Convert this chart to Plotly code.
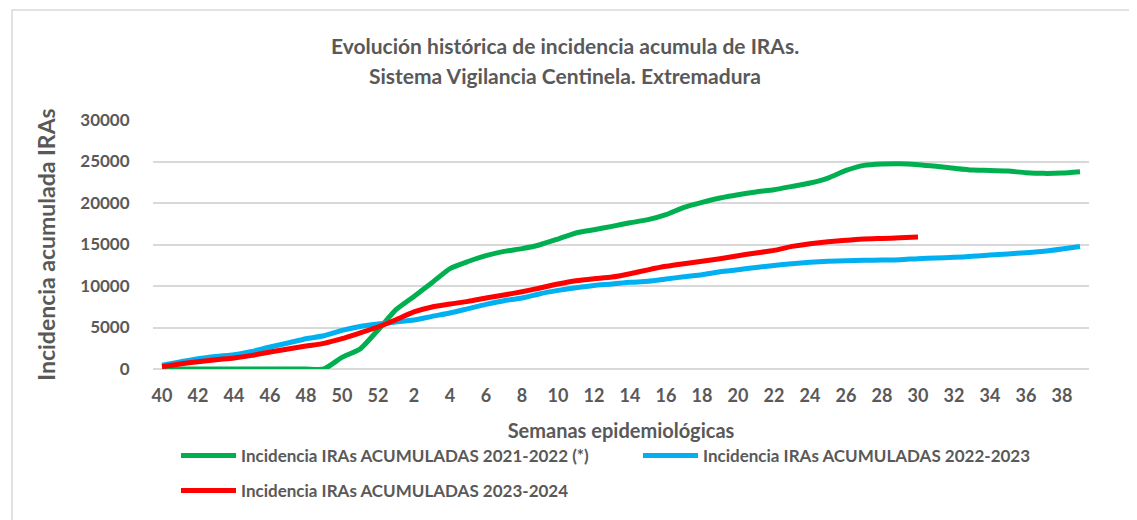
import plotly.graph_objects as go

weeks = ["40", "41", "42", "43", "44", "45", "46", "47", "48", "49", "50", "51", "52",
         "1", "2", "3", "4", "5", "6", "7", "8", "9", "10", "11", "12", "13", "14", "15",
         "16", "17", "18", "19", "20", "21", "22", "23", "24", "25", "26", "27", "28", "29",
         "30", "31", "32", "33", "34", "35", "36", "37", "38", "39"]

tick_labels = ["40", "42", "44", "46", "48", "50", "52", "2", "4", "6", "8", "10", "12", "14",
               "16", "18", "20", "22", "24", "26", "28", "30", "32", "34", "36", "38"]

y_ticks = [0, 5000, 10000, 15000, 20000, 25000, 30000]

s2122 = [0, 0, 0, 0, 0, 0, 0, 0, 0, 0, 1400, 2400, 4700,
         7150, 8750, 10400, 12100, 12950, 13650, 14170, 14500, 14970, 15660, 16390, 16780,
         17180, 17620, 17990, 18590, 19470, 20070, 20600, 21000, 21330, 21600, 22000, 22410,
         23010, 23930, 24530, 24700, 24740, 24620, 24420, 24180, 23970, 23930, 23850, 23650,
         23570, 23610, 23770]

s2223 = [450, 840, 1240, 1520, 1720, 2120, 2650, 3130, 3650, 4010, 4650, 5130, 5420,
         5660, 5900, 6340, 6750, 7270, 7790, 8230, 8550, 9070, 9470, 9800, 10070, 10240,
         10440, 10560, 10840, 11120, 11360, 11720, 11960, 12240, 12480, 12690, 12850, 12970,
         13050, 13100, 13130, 13170, 13290, 13370, 13450, 13570, 13740, 13860, 14010, 14180,
         14460, 14770]

s2324 = [280, 600, 880, 1120, 1320, 1640, 2040, 2410, 2770, 3090, 3650, 4340, 5060,
         5940, 6870, 7470, 7830, 8150, 8550, 8920, 9310, 9760, 10240, 10640, 10880, 11080,
         11480, 11950, 12370, 12690, 12970, 13290, 13650, 13980, 14290, 14770, 15100, 15340,
         15500, 15660, 15730, 15800, 15900]

names = ["Incidencia IRAs ACUMULADAS 2021-2022 (*)",
         "Incidencia IRAs ACUMULADAS 2022-2023",
         "Incidencia IRAs ACUMULADAS 2023-2024"]
colors = ["#00B050", "#00B0F0", "#FF0000"]

FONT = "Lato"
GRAY = "#595959"

# page has an 8px body margin; work in page pixels and convert
OFF = 8
W, H = 1137 - OFF, 520 - OFF
L, R, T, B = 153, 1089, 120, 369  # plot area in page pixels


def px(x):
    return (x - L) / (R - L)


def py(y):
    return (B - y) / (B - T)


fig = go.Figure()
series = [s2122, s2223, s2324]
legends = ["legend", "legend2", "legend3"]
for vals, name, col, lg in zip(series, names, colors, legends):
    fig.add_trace(go.Scatter(
        x=weeks[:len(vals)], y=vals, mode="lines", name=name,
        line=dict(color=col, width=5, shape="spline", smoothing=0.55),
        legend=lg, hoverinfo="x+y"))

leg_font = dict(family=FONT, size=17, color=GRAY, weight="bold")


def leg(xpix, ypix):
    return dict(orientation="h", x=px(xpix), y=py(ypix), xanchor="left", yanchor="middle",
                font=leg_font, bgcolor="rgba(0,0,0,0)", itemwidth=55)


fig.update_layout(
    width=W, height=H,
    margin=dict(l=L - OFF, r=W - (R - OFF), t=T - OFF, b=H - (B - OFF), autoexpand=False),
    paper_bgcolor="white", plot_bgcolor="white",
    font=dict(family=FONT, color=GRAY),
    showlegend=True,
    legend=leg(176, 456),
    legend2=leg(638, 456),
    legend3=leg(176, 491),
    xaxis=dict(type="category", categoryorder="array", categoryarray=weeks,
               range=[-0.5, len(weeks) - 0.5],
               tickmode="array", tickvals=tick_labels, ticktext=tick_labels,
               ticks="outside", ticklen=10, tickcolor="rgba(0,0,0,0)",
               showgrid=False, showline=False, zeroline=False,
               tickfont=dict(family=FONT, size=18, color=GRAY, weight="bold"),
               title=dict(text="Semanas epidemiológicas", standoff=19,
                          font=dict(family=FONT, size=20, color=GRAY, weight="bold"))),
    yaxis=dict(range=[0, 30000], tickmode="array", tickvals=y_ticks,
               ticktext=[str(v) for v in y_ticks],
               ticks="outside", ticklen=19, tickcolor="rgba(0,0,0,0)",
               showgrid=True, gridcolor="#d9d9d9", gridwidth=1.5,
               zeroline=True, zerolinecolor="#d9d9d9", zerolinewidth=1.5,
               showline=False,
               tickfont=dict(family=FONT, size=17, color=GRAY, weight="bold"),
               title=dict(text="Incidencia acumulada IRAs", standoff=18,
                          font=dict(family=FONT, size=23, color=GRAY, weight="bold"))),
    annotations=[
        dict(text="Evolución histórica de incidencia acumula de IRAs.", xref="paper", yref="paper",
             x=px(565), y=py(45), xanchor="center", yanchor="middle", showarrow=False,
             font=dict(family=FONT, size=21, color=GRAY, weight="bold")),
        dict(text="Sistema Vigilancia Centinela. Extremadura", xref="paper", yref="paper",
             x=px(565), y=py(75), xanchor="center", yanchor="middle", showarrow=False,
             font=dict(family=FONT, size=21, color=GRAY, weight="bold")),
    ],
    shapes=[dict(type="rect", xref="paper", yref="paper", x0=px(12), x1=px(1134),
                 y0=py(10), y1=py(540), line=dict(color="#d9d9d9", width=1.5),
                 fillcolor="rgba(0,0,0,0)", layer="below")],
)

fig.write_html("out.html")
